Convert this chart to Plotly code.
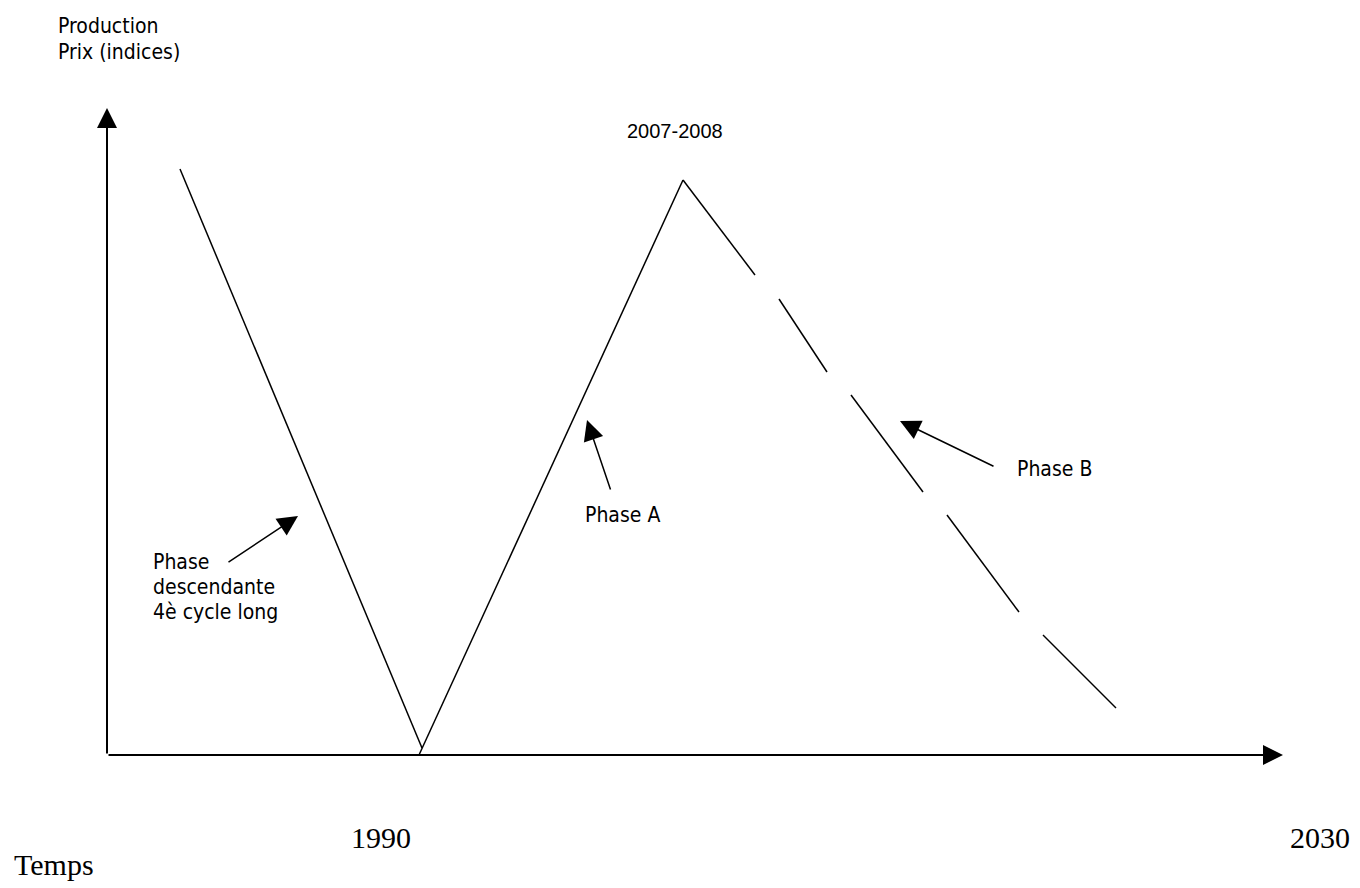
import plotly.graph_objects as go

# ---------------- data (schematic units: time to the right, index upward) ----------------
time_desc = [73, 315]            # phase descendante (4e cycle long)
index_desc = [586, 7]
time_a = [312, 576]              # phase A (rise to 2007-2008)
index_a = [0, 575]
# phase B: long-dashed descent, one entry per dash
time_b_start = [576, 672, 744, 840, 936]
time_b_end = [648, 720, 816, 912, 1009]
index_b_start = [575, 456, 360, 240, 120]
index_b_end = [480, 383, 263, 143, 47]

axis_time_end = 1176
axis_index_end = 647
tick_labels = ["1990", "2030"]
tick_times = [274, 1213]

# ---------------- helpers: page pixels -> schematic units ----------------
OX, OY = 107, 755
def X(px):
    return px - OX
def Y(py):
    return OY - py

W, H = 1360, 888
SANS = "DejaVu Sans Condensed, Tahoma, Liberation Sans, sans-serif"
SERIF = "Liberation Serif, Times New Roman, serif"

fig = go.Figure()

line_style = dict(color="black", width=1.5)
fig.add_trace(go.Scatter(x=time_desc, y=index_desc, mode="lines", line=line_style,
                         hoverinfo="skip", showlegend=False))
fig.add_trace(go.Scatter(x=time_a, y=index_a, mode="lines", line=line_style,
                         hoverinfo="skip", showlegend=False))
bx, by = [], []
for x0, x1, y0, y1 in zip(time_b_start, time_b_end, index_b_start, index_b_end):
    bx += [x0, x1, None]
    by += [y0, y1, None]
fig.add_trace(go.Scatter(x=bx, y=by, mode="lines", line=line_style,
                         hoverinfo="skip", showlegend=False, connectgaps=False))

ann = []
# axes with arrowheads
ann.append(dict(x=0, y=axis_index_end, ax=0, ay=0, xref="x", yref="y", axref="x", ayref="y",
                text="", showarrow=True, arrowhead=2, arrowsize=2, arrowwidth=2,
                arrowcolor="black", standoff=0))
ann.append(dict(x=axis_time_end, y=0, ax=0, ay=0, xref="x", yref="y", axref="x", ayref="y",
                text="", showarrow=True, arrowhead=2, arrowsize=2, arrowwidth=2,
                arrowcolor="black", standoff=0))

# callout arrows
def callout(tail, tip):
    ann.append(dict(x=X(tip[0]), y=Y(tip[1]), ax=X(tail[0]), ay=Y(tail[1]),
                    xref="x", yref="y", axref="x", ayref="y", text="", showarrow=True,
                    arrowhead=2, arrowsize=2.7, arrowwidth=1.5, arrowcolor="black",
                    standoff=0))
callout((227, 563), (298, 516))
callout((611, 491), (587, 420))
callout((995, 467), (900, 421))

def label(text, px, py, size, family=SANS, xanchor="left"):
    ann.append(dict(x=X(px), y=Y(py), xref="x", yref="y", text=text, showarrow=False,
                    xanchor=xanchor, yanchor="middle",
                    font=dict(family=family, size=size, color="black")))

label("Production", 56, 25.5, 21)
label("Prix (indices)", 56, 51.5, 21)
label("2007-2008", 675, 131, 20, family="Liberation Sans, Arial, sans-serif", xanchor="center")
label("Phase", 151, 561.5, 21)
label("descendante", 151, 586.5, 21)
label("4è cycle long", 151, 611.5, 21)
label("Phase A", 583, 514.5, 21)
label("Phase B", 1015, 468.5, 21)

for t, lab in zip(tick_times, tick_labels):
    ann.append(dict(x=t, y=Y(837), xref="x", yref="y", text=lab, showarrow=False,
                    xanchor="center", yanchor="middle",
                    font=dict(family=SERIF, size=30, color="black")))
label("Temps", 12, 864, 30, family=SERIF)

fig.update_layout(
    width=W, height=H,
    margin=dict(l=0, r=0, t=0, b=0, pad=0),
    paper_bgcolor="white", plot_bgcolor="white",
    xaxis=dict(range=[X(0), X(W)], visible=False, fixedrange=True),
    yaxis=dict(range=[Y(H), Y(0)], visible=False, fixedrange=True),
    annotations=ann,
    showlegend=False,
)

fig.write_html("out.html", config={"displayModeBar": False, "staticPlot": True},
               post_script="document.body.style.margin='0';document.body.style.overflow='hidden';")
